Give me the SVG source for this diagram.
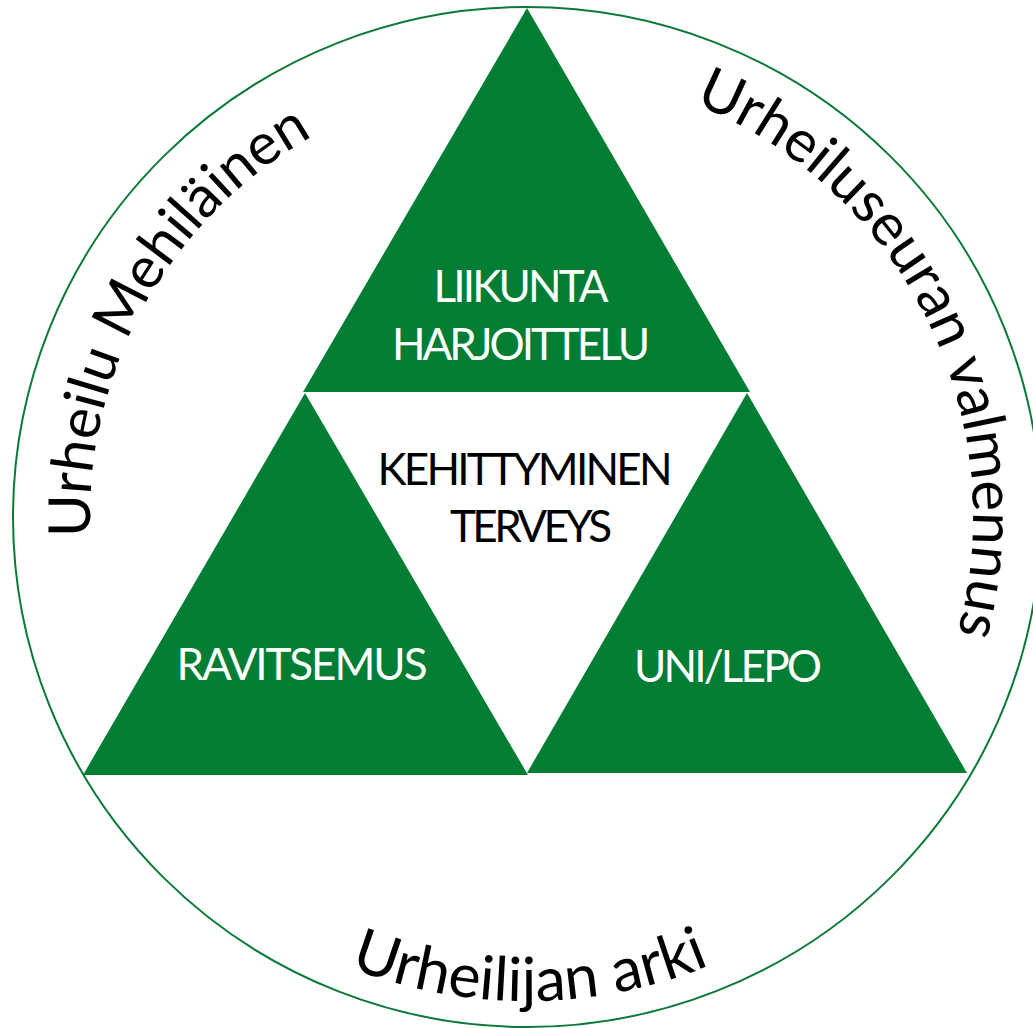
<svg xmlns="http://www.w3.org/2000/svg" width="1033" height="1028" viewBox="0 0 1033 1028">
<style>
.tri{fill:#027E34;}
.wl{font-family:Lato,"Liberation Sans",sans-serif;font-size:44px;fill:#ffffff;text-anchor:middle;}
.bl{font-family:Lato,"Liberation Sans",sans-serif;font-size:44px;fill:#000000;text-anchor:middle;}
.arc{font-family:Lato,"Liberation Sans",sans-serif;fill:#000000;}
</style>
<defs>
<path id="pLeft" d="M 90.5 536.8 A 437 437 0 0 1 527 80"/>
<path id="pRight" d="M 694.1 103.5 A 446 446 0 0 1 868.6 803.7"/>
<path id="pBottom" d="M 107.8 759 A 484 484 0 0 0 946.2 759"/>
</defs>
<rect width="1033" height="1028" fill="#ffffff"/>
<g id="outer-circle">
<ellipse cx="527" cy="517" rx="514" ry="510" fill="none" stroke="#0B7A38" stroke-width="2"/>
</g>
<g id="connectors"></g>
<g id="node-liikunta">
<polygon class="tri" points="527,8 303,392 750,392"/>
<text class="wl" x="521" y="302" textLength="175">LIIKUNTA</text>
<text class="wl" x="521" y="360" textLength="258">HARJOITTELU</text>
</g>
<g id="node-ravitsemus">
<polygon class="tri" points="305,393 83,775 528,775"/>
<text class="wl" x="302" y="680" textLength="251">RAVITSEMUS</text>
</g>
<g id="node-unilepo">
<polygon class="tri" points="747,393 527,773 967,773"/>
<text class="wl" x="728" y="682" textLength="188">UNI/LEPO</text>
</g>
<g id="node-center">
<text class="bl" x="525" y="485" textLength="295">KEHITTYMINEN</text>
<text class="bl" x="531" y="542" textLength="162">TERVEYS</text>
</g>
<g id="label-left">
<text class="arc" font-size="58"><textPath href="#pLeft">Urheilu Mehiläinen</textPath></text>
</g>
<g id="label-right">
<text class="arc" font-size="58.5"><textPath href="#pRight">Urheiluseuran valmennus</textPath></text>
</g>
<g id="label-bottom">
<text class="arc" font-size="61" text-anchor="middle"><textPath href="#pBottom" startOffset="50.3%">Urheilijan arki</textPath></text>
</g>
</svg>
